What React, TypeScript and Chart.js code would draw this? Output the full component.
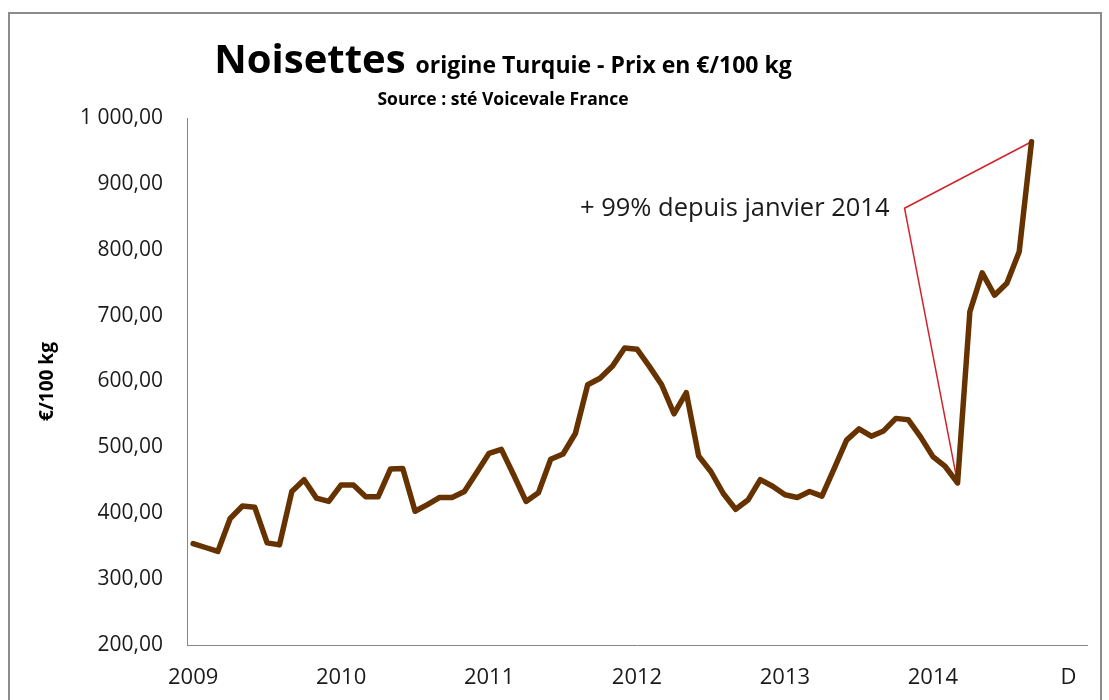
import React, { useEffect, useRef } from 'react';
import { Chart, registerables } from 'chart.js';

Chart.register(...registerables);

// ---- data ----
const YEAR_LABELS = ['2009', '2010', '2011', '2012', '2013', '2014'];
const END_LABEL = 'D';
const END_LABEL_INDEX = 71;
const SLOT_COUNT = 73;

// monthly price (€/100 kg), Jan 2009 .. Sep 2014
const PRICES = [
  354, 348, 342, 392, 411, 409, 355, 352, 433, 451, 423, 418,
  443, 443, 425, 425, 467, 468, 403, 413, 424, 424, 433, 462,
  491, 497, 458, 418, 431, 482, 490, 521, 595, 605, 623, 651,
  649, 623, 595, 551, 583, 487, 463, 430, 406, 420, 451, 441,
  428, 424, 433, 426, 468, 511, 528, 517, 525, 544, 542, 516,
  486, 471, 446, 706, 765, 731, 749, 797, 964,
];

const Y_MIN = 200;
const Y_MAX = 1000;
const Y_STEP = 100;

const TITLE_MAIN = 'Noisettes';
const TITLE_REST = 'origine Turquie - Prix en €/100 kg';
const SOURCE_TEXT = 'Source : sté Voicevale France';
const Y_TITLE = '€/100 kg';
const NOTE_TEXT = '+ 99% depuis janvier 2014';
const NOTE_ANCHOR = { x: 57.7, y: 863 };
const NOTE_FROM_INDEX = 62;
const NOTE_TO_INDEX = 68;

const FONT = "'Open Sans', 'Noto Sans', sans-serif";
const LINE_COLOR = '#663300';

const X_LABELS = Array.from({ length: SLOT_COUNT }, (_, i) => {
  if (i === END_LABEL_INDEX) return END_LABEL;
  if (i % 12 === 0 && YEAR_LABELS[i / 12]) return YEAR_LABELS[i / 12];
  return '';
});

const fmt = (v: number) => {
  const [int, dec] = Number(v).toFixed(2).split('.');
  return int.replace(/\B(?=(\d{3})+(?!\d))/g, ' ') + ',' + dec;
};

const decor = {
  id: 'decor',
  beforeDraw(chart: any) {
    const ctx = chart.ctx;
    ctx.save();
    ctx.fillStyle = '#ffffff';
    ctx.fillRect(0, 0, chart.width, chart.height);
    ctx.strokeStyle = '#8c8c8c';
    ctx.lineWidth = 2;
    ctx.strokeRect(9, 13, 1092, 700);
    ctx.restore();
  },
  beforeDatasetsDraw(chart: any) {
    const ctx = chart.ctx;
    const pts = chart.getDatasetMeta(0).data;
    const ax = chart.scales.x.getPixelForValue(NOTE_ANCHOR.x);
    const ay = chart.scales.y.getPixelForValue(NOTE_ANCHOR.y);
    const a = pts[NOTE_FROM_INDEX];
    const b = pts[NOTE_TO_INDEX];
    ctx.save();
    ctx.strokeStyle = '#d2232a';
    ctx.lineWidth = 1.5;
    ctx.beginPath();
    ctx.moveTo(a.x, a.y);
    ctx.lineTo(ax, ay);
    ctx.lineTo(b.x, b.y);
    ctx.stroke();
    ctx.restore();
  },
  afterDraw(chart: any) {
    const ctx = chart.ctx;
    ctx.save();
    // title
    const center = 503;
    ctx.fillStyle = '#000000';
    ctx.textBaseline = 'alphabetic';
    ctx.textAlign = 'left';
    const f1 = `bold 40px ${FONT}`;
    const f2 = `bold 23px ${FONT}`;
    ctx.font = f1;
    const w1 = ctx.measureText(TITLE_MAIN).width;
    ctx.font = f2;
    const w2 = ctx.measureText(TITLE_REST).width;
    const gap = 10;
    const start = center - (w1 + gap + w2) / 2;
    ctx.font = f1;
    ctx.fillText(TITLE_MAIN, start, 73);
    ctx.font = f2;
    ctx.fillText(TITLE_REST, start + w1 + gap, 73);
    ctx.font = `bold 17.5px ${FONT}`;
    ctx.textAlign = 'center';
    ctx.fillText(SOURCE_TEXT, center, 105);
    // annotation text
    const ax = chart.scales.x.getPixelForValue(NOTE_ANCHOR.x);
    const ay = chart.scales.y.getPixelForValue(NOTE_ANCHOR.y);
    ctx.font = `25.5px ${FONT}`;
    ctx.textAlign = 'right';
    ctx.textBaseline = 'middle';
    ctx.fillStyle = '#1a1a1a';
    ctx.fillText(NOTE_TEXT, ax - 15, ay);
    ctx.restore();
  },
};

export default function App() {
  const ref = useRef<HTMLCanvasElement | null>(null);

  useEffect(() => {
    if (!ref.current) return;
    const chart = new Chart(ref.current, {
      type: 'line',
      data: {
        labels: X_LABELS,
        datasets: [
          {
            data: PRICES,
            borderColor: LINE_COLOR,
            borderWidth: 5.5,
            pointRadius: 0,
            pointHoverRadius: 0,
            fill: false,
            tension: 0,
            borderJoinStyle: 'round',
            borderCapStyle: 'round',
          },
        ],
      },
      options: {
        responsive: false,
        animation: false,
        layout: { padding: { left: 8, right: 22, top: 118, bottom: 0 } },
        plugins: {
          legend: { display: false },
          tooltip: { enabled: false },
          title: { display: false },
        },
        scales: {
          x: {
            type: 'category',
            offset: true,
            grid: { display: false, drawTicks: false },
            border: { display: true, color: '#868686', width: 1 },
            ticks: {
              autoSkip: false,
              maxRotation: 0,
              minRotation: 0,
              padding: 20,
              color: '#1a1a1a',
              font: { family: FONT, size: 22 },
            },
            afterFit: (s: any) => {
              s.height = 55;
            },
          },
          y: {
            min: Y_MIN,
            max: Y_MAX,
            grid: { display: false, drawTicks: false },
            border: { display: true, color: '#868686', width: 1 },
            ticks: {
              stepSize: Y_STEP,
              padding: 24,
              color: '#1a1a1a',
              font: { family: FONT, size: 21 },
              callback: (v: any) => fmt(v),
            },
            title: {
              display: true,
              text: Y_TITLE,
              color: '#000000',
              font: { family: FONT, size: 19, weight: 'bold' },
              padding: { top: 28, bottom: 0 },
            },
            afterFit: (s: any) => {
              s.width = 179;
            },
          },
        },
      },
      plugins: [decor],
    });
    return () => chart.destroy();
  }, []);

  return (
    <div style={{ position: 'fixed', left: 0, top: 0, width: 1109, height: 700, background: '#fff' }}>
      <canvas ref={ref} width={1109} height={700} style={{ width: 1109, height: 700, display: 'block' }} />
    </div>
  );
}
